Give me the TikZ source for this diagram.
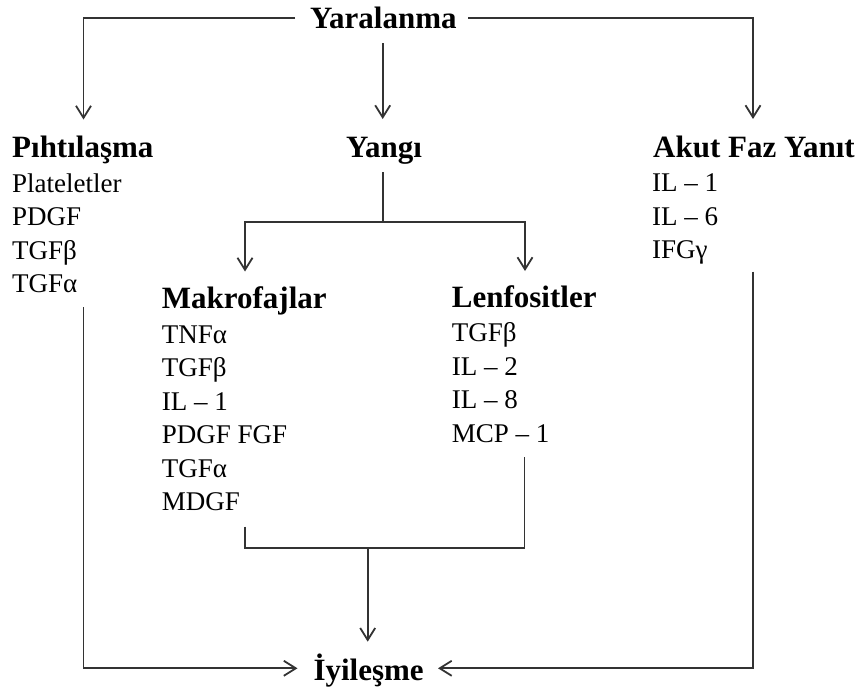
\documentclass[tikz,border=0pt]{standalone}
\usepackage{fontspec}
\setmainfont{Liberation Serif}
\usetikzlibrary{arrows.meta}
\begin{document}
\begin{tikzpicture}[x=1pt,y=-1pt,
 hd/.style={anchor=base west,inner sep=0,font=\fontsize{31}{36}\selectfont\bfseries},
 it/.style={anchor=base west,inner sep=0,font=\fontsize{27}{33}\selectfont},
 ln/.style={line width=1.8pt,draw=black!80},
 arr/.style={ln,-{Straight Barb[length=12pt,width=15pt,line width=1.8pt]}}]
\useasboundingbox[fill=white] (0,0) rectangle (859,688);

% headers
\node[hd] (yar) at (310,28) {Yaralanma};
\node[hd] (pih) at (12,157) {Pıhtılaşma};
\node[hd] (yan) at (346,157) {Yangı};
\node[hd] (aku) at (653,157) {Akut Faz Yanıt};
\node[hd] (mak) at (161.7,308) {Makrofajlar};
\node[hd] (len) at (451.7,307) {Lenfositler};
\node[hd] (iyi) at (313.3,680) {İyileşme};

% Pıhtılaşma items
\node[it] (p1) at (12,192) {Plateletler};
\node[it] (p2) at (12,225.5) {PDGF};
\node[it] (p3) at (12,259) {TGFβ};
\node[it] (p4) at (12,292.5) {TGFα};

% Akut Faz items
\node[it] (a1) at (652,191.7) {IL – 1};
\node[it] (a2) at (652,225) {IL – 6};
\node[it] (a3) at (652,258.5) {IFGγ};

% Makrofajlar items
\node[it] (m1) at (161.7,343) {TNFα};
\node[it] (m2) at (161.7,376.5) {TGFβ};
\node[it] (m3) at (161.7,410) {IL – 1};
\node[it] (m4) at (161.7,443.5) {PDGF FGF};
\node[it] (m5) at (161.7,477) {TGFα};
\node[it] (m6) at (161.7,510.5) {MDGF};

% Lenfositler items
\node[it] (l1) at (451.7,341.7) {TGFβ};
\node[it] (l2) at (451.7,375) {IL – 2};
\node[it] (l3) at (451.7,408.5) {IL – 8};
\node[it] (l4) at (451.7,442) {MCP – 1};

% connector points
\coordinate (yl) at (295,18.3);
\coordinate (yr) at (468.3,18.3);
\coordinate (ymid) at (382.7,43);
\coordinate (pihT) at (83.5,119.5);
\coordinate (akT) at (753,119);
\coordinate (yanT) at (382.7,119);
\coordinate (yanB) at (382.7,172);
\coordinate (split) at (382.7,221.7);
\coordinate (makT) at (245,271.5);
\coordinate (lenT) at (525,271);
\coordinate (pihB) at (83.5,307);
\coordinate (iyiL) at (297.5,668.3);
\coordinate (akB) at (753,271.7);
\coordinate (iyiR) at (438,668.3);
\coordinate (makB) at (245,526.7);
\coordinate (join) at (367.7,548.3);
\coordinate (lenB) at (524.5,457.3);
\coordinate (iyiT) at (367.7,641.7);

\draw[arr] (yl) -| (pihT);
\draw[arr] (yr) -| (akT);
\draw[arr] (ymid) -- (yanT);
\draw[ln] (yanB) -- (split);
\draw[arr] (split) -| (makT);
\draw[arr] (split) -| (lenT);
\draw[arr] (pihB) |- (iyiL);
\draw[arr] (akB) |- (iyiR);
\draw[ln] (makB) |- (join) -| (lenB);
\draw[arr] (join) -- (iyiT);
\end{tikzpicture}
\end{document}
